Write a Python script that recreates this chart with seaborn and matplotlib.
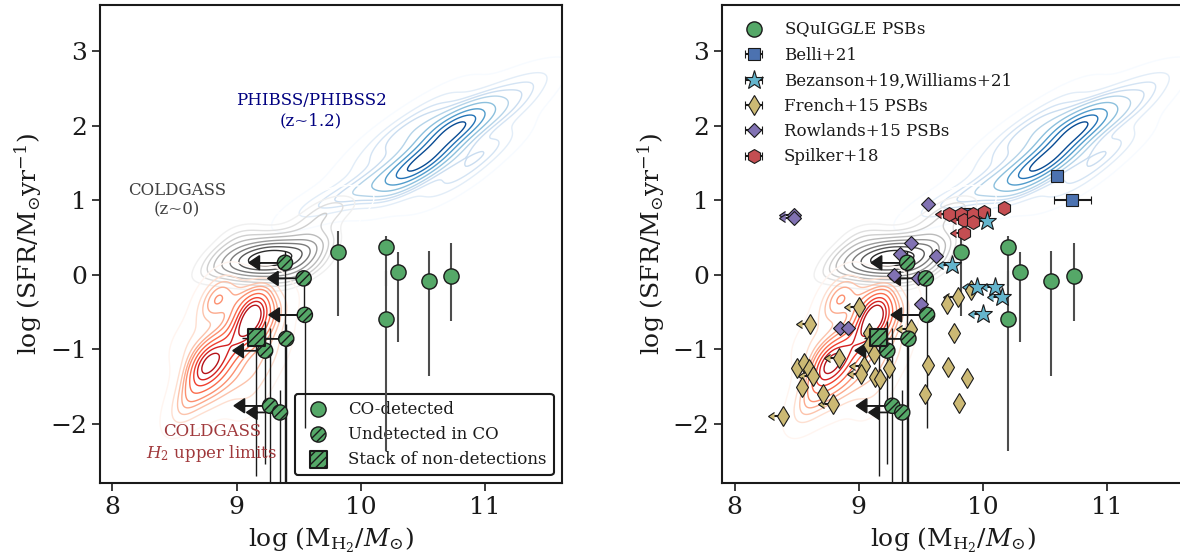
import numpy as np
import pandas as pd
import matplotlib
matplotlib.use("Agg")
import matplotlib.pyplot as plt
import seaborn as sns

# === Comparison populations (hand-read samples for the density contours) ===
phibss_mh2 = [10.35, 10.42, 10.48, 10.52, 10.40, 10.46, 10.55, 10.33, 10.50, 10.38,
              10.75, 10.80, 10.85, 10.72, 10.82, 10.78, 10.80, 10.76, 10.83,
              10.62, 10.68, 10.58, 10.70, 10.55,
              10.00, 10.20, 10.45, 10.60, 10.90, 11.10, 11.25, 11.20, 10.70, 10.95,
              11.40, 11.05, 10.15, 9.90, 9.70, 10.30, 10.10, 10.25, 10.80, 11.00,
              10.35, 10.60, 9.55, 10.00, 11.30]
phibss_sfr = [1.40, 1.45, 1.48, 1.42, 1.52, 1.38, 1.55, 1.35, 1.60, 1.30,
              1.95, 2.02, 1.95, 2.05, 2.10, 1.98, 2.00, 2.03, 1.99,
              1.70, 1.80, 1.65, 1.62, 1.85,
              1.50, 1.85, 2.15, 1.10, 1.50, 1.80, 2.20, 2.55, 2.40, 2.35,
              2.60, 2.10, 1.10, 1.05, 0.95, 1.05, 1.30, 1.65, 1.30, 1.65,
              1.90, 2.10, 0.90, 1.15, 2.40]

coldgass_mh2 = [9.10, 9.18, 9.25, 9.32, 9.40, 9.48, 9.22, 9.35, 9.15, 9.45, 9.28, 9.05,
                8.90, 8.95, 9.00, 9.20, 9.50, 9.60, 9.55, 9.30, 9.10, 8.85, 9.40, 9.65,
                9.65, 9.75, 9.60, 9.85,
                8.75, 9.00, 9.70]
coldgass_sfr = [0.25, 0.28, 0.22, 0.25, 0.20, 0.28, 0.15, 0.12, 0.18, 0.15, 0.32, 0.20,
                0.10, 0.35, -0.05, -0.05, 0.00, 0.30, 0.45, 0.50, 0.50, 0.25, -0.10, 0.15,
                0.65, 0.95, 0.75, 0.90,
                0.00, 0.60, 0.45]

ulim_mh2 = [9.12, 9.13, 9.11, 9.14, 9.12, 9.10, 9.15, 9.08,
            9.05, 9.20, 9.00, 9.20, 9.25, 9.02, 9.30,
            8.75, 8.78, 8.72, 8.80, 8.70, 8.82, 8.76, 8.85, 8.68,
            8.90, 8.95, 8.88,
            8.82, 8.85, 8.80, 8.90,
            8.60, 8.65, 8.80, 8.95, 9.05, 9.10, 8.55, 9.20, 9.35, 8.60]
ulim_sfr = [-0.50, -0.58, -0.65, -0.45, -0.72, -0.40, -0.62, -0.55,
            -0.80, -0.85, -0.95, -0.30, -0.60, -0.30, -1.00,
            -1.20, -1.28, -1.15, -1.10, -1.35, -1.40, -1.05, -1.25, -1.25,
            -1.00, -1.15, -0.85,
            -0.30, -0.25, -0.40, -0.35,
            -1.60, -1.70, -1.65, -1.50, -1.30, -1.65, -1.85, -1.30, -0.50, -0.90]

# === SQuIGGLE PSBs ===
det_mh2 = [9.82, 10.20, 10.20, 10.30, 10.55, 10.73]
det_sfr = [0.30, 0.37, -0.59, 0.03, -0.09, -0.02]
det_err_lo = [0.85, 0.52, 1.78, 0.94, 1.27, 0.60]
det_err_hi = [0.29, 0.15, 0.64, 0.27, 0.41, 0.45]

und_mh2 = [9.39, 9.54, 9.55, 9.40, 9.23, 9.27, 9.35]
und_sfr = [0.16, -0.05, -0.54, -0.86, -1.02, -1.76, -1.85]
und_err_lo = [3.00, 0.50, 1.52, 2.00, 1.52, 1.10, 1.00]
und_err_hi = [0.16, 0.08, 0.10, 0.20, 0.40, 1.05, 0.30]
und_arrow = [0.29, 0.29, 0.29, 0.28, 0.26, 0.29, 0.27]

stack_mh2 = [9.16]
stack_sfr = [-0.85]
stack_xerr = [0.12]
stack_err_lo = [1.85]
stack_err_hi = [0.14]

# === Literature samples (right panel) ===
belli_mh2 = [10.60, 10.72, 9.88]
belli_sfr = [1.33, 1.00, 0.82]
belli_xerr = [0.04, 0.15, 0.05]

spilker_mh2 = [9.73, 9.82, 9.85, 9.92, 9.92, 10.01, 10.17, 9.85]
spilker_sfr = [0.82, 0.81, 0.74, 0.82, 0.71, 0.84, 0.90, 0.56]
spilker_lim = [True, False, True, False, False, False, False, True]

bez_mh2 = [10.03, 9.75, 9.95, 10.10, 10.15, 10.00]
bez_sfr = [0.72, 0.13, -0.16, -0.16, -0.30, -0.53]
bez_lim = [True, True, True, True, True, True]

row_mh2 = [8.48, 8.48, 9.56, 9.42, 9.33, 9.62, 9.28, 9.48, 9.50, 8.85, 8.91]
row_sfr = [0.80, 0.76, 0.95, 0.43, 0.28, 0.25, 0.00, -0.04, -0.40, -0.71, -0.71]
row_lim = [True, True, False, False, False, False, False, False, False, False, False]

french_mh2 = [8.39, 8.61, 9.00, 8.84, 8.50, 8.56, 8.60, 8.63, 8.54, 8.71, 8.79, 9.04, 9.02, 9.13, 9.17,
              9.08, 9.08, 9.12, 9.24, 9.42, 9.71, 9.80, 9.90, 9.77, 9.56, 9.72, 9.87, 9.53, 9.81]
french_sfr = [-1.90, -0.66, -0.43, -1.12, -1.25, -1.18, -1.27, -1.36, -1.51, -1.60, -1.73, -1.22, -1.33, -1.37, -1.40,
              -0.78, -0.95, -1.07, -1.25, -0.73, -0.39, -0.30, -0.21, -0.78, -1.21, -1.24, -1.39, -1.60, -1.72]
french_lim = [True, True, True, True, False, False, False, True, False, False, True, True, True, False, False,
              False, False, False, False, True, False, True, False, False, False, False, False, False, False]

lim_len = 0.07

# === Style ===
sns.set_theme(style="ticks")
plt.rcParams["font.family"] = ["DejaVu Serif"]
plt.rcParams["mathtext.fontset"] = "dejavuserif"
plt.rcParams["axes.linewidth"] = 1.5
plt.rcParams["hatch.linewidth"] = 1.0
for key in ("text.color", "axes.labelcolor", "xtick.color", "ytick.color", "axes.edgecolor"):
    plt.rcParams[key] = "k"
pal = sns.color_palette("deep")
green = pal[2]

fig = plt.figure(figsize=(11.8, 5.58), dpi=100)
ax1 = fig.add_axes([0.0847, 0.134, 0.3915, 0.857])
ax2 = fig.add_axes([0.612, 0.134, 0.3915, 0.857])


def draw_contours(ax):
    kw = dict(levels=10, thresh=0.03, linewidths=1.0, ax=ax, zorder=1)
    sns.kdeplot(x=phibss_mh2, y=phibss_sfr, cmap="Blues", bw_adjust=0.95, **kw)
    sns.kdeplot(x=coldgass_mh2, y=coldgass_sfr, cmap="Greys", bw_adjust=1.0, **kw)
    sns.kdeplot(x=ulim_mh2, y=ulim_sfr, cmap="Reds", bw_adjust=0.95, **kw)


def draw_squiggle(ax):
    # detections with error bars
    ax.errorbar(det_mh2, det_sfr, yerr=[det_err_lo, det_err_hi], fmt="none",
                ecolor="0.3", elinewidth=1.5, zorder=3)
    # non-detections: vertical bars + upper-limit arrows in gas mass
    ax.errorbar(und_mh2, und_sfr, yerr=[und_err_lo, und_err_hi], fmt="none",
                ecolor="k", elinewidth=1.0, zorder=3)
    ax.errorbar(stack_mh2, stack_sfr, xerr=stack_xerr, yerr=[stack_err_lo, stack_err_hi],
                fmt="none", ecolor="k", elinewidth=1.0, zorder=3)
    for x, y, L in zip(und_mh2, und_sfr, und_arrow):
        ax.arrow(x, y, -L, 0, head_width=0.19, head_length=0.085, length_includes_head=True,
                 fc="k", ec="k", lw=1.0, zorder=4)
    h1 = ax.scatter(det_mh2, det_sfr, s=120, color=green, edgecolors="k", linewidths=1.0, zorder=6)
    h2 = ax.scatter(und_mh2, und_sfr, s=120, color=green, edgecolors="k", linewidths=1.0,
                    hatch="////", zorder=6)
    h3 = ax.scatter(stack_mh2, stack_sfr, s=150, marker="s", color=green, edgecolors="k",
                    linewidths=1.5, hatch="////", zorder=7)
    return h1, h2, h3


def lit(ax, x, y, lims, marker, color, ms, label):
    xerr = [lim_len if l else 0.0 for l in lims]
    return ax.errorbar(x, y, xerr=xerr, xuplims=lims, fmt=marker, color=color, mec="k", mew=0.8,
                       ms=ms, ecolor="k", elinewidth=1.5, capsize=3, label=label, zorder=5)


# === Left panel ===
draw_contours(ax1)
h1, h2, h3 = draw_squiggle(ax1)
ax1.text(9.6, 2.2, "PHIBSS/PHIBSS2\n(z~1.2)", color="navy", ha="center", va="center", fontsize=12)
ax1.text(8.52, 1.0, "COLDGASS\n(z~0)", color="0.25", ha="center", va="center", fontsize=12)
ax1.text(8.8, -2.27, "COLDGASS\n$H_2$ upper limits", color="#a0393c", ha="center", va="center",
         fontsize=12)
leg1 = ax1.legend([h1, h2, h3], ["CO-detected", "Undetected in CO", "Stack of non-detections"],
                  loc="lower right", fontsize=12, frameon=True, edgecolor="k", framealpha=1)
leg1.get_frame().set_linewidth(1.5)
leg1.set_zorder(2)

# === Right panel ===
draw_contours(ax2)
hf = lit(ax2, french_mh2, french_sfr, french_lim, "d", pal[8], 10, "French+15 PSBs")
hr = lit(ax2, row_mh2, row_sfr, row_lim, "D", pal[4], 7.5, "Rowlands+15 PSBs")
hb = ax2.errorbar(belli_mh2, belli_sfr, xerr=belli_xerr, fmt="s", color=pal[0], mec="k", mew=0.8,
                  ms=8, ecolor="k", elinewidth=1.5, capsize=3, label="Belli+21", zorder=5)
hs = lit(ax2, spilker_mh2, spilker_sfr, spilker_lim, "h", pal[3], 10, "Spilker+18")
hz = lit(ax2, bez_mh2, bez_sfr, bez_lim, "*", pal[9], 14, "Bezanson+19,Williams+21")
g1, g2, g3 = draw_squiggle(ax2)
ax2.legend([g1, hb, hz, hf, hr, hs],
           ["SQuIGG$L$E PSBs", "Belli+21", "Bezanson+19,Williams+21", "French+15 PSBs",
            "Rowlands+15 PSBs", "Spilker+18"],
           loc="upper left", fontsize=12, frameon=False)

for ax in (ax1, ax2):
    ax.set_xlim(7.9, 11.62)
    ax.set_ylim(-2.8, 3.62)
    ax.set_xticks([8, 9, 10, 11])
    ax.set_yticks([-2, -1, 0, 1, 2, 3])
    ax.tick_params(labelsize=18, width=1.2, length=6, direction="out")
    ax.set_xlabel(r"log (M$_{\mathrm{H}_2}$/$M_{\odot}$)", fontsize=18)
    ax.set_ylabel(r"log (SFR/M$_{\odot}$yr$^{-1}$)", fontsize=18)

fig.savefig("out.png", dpi=100)
